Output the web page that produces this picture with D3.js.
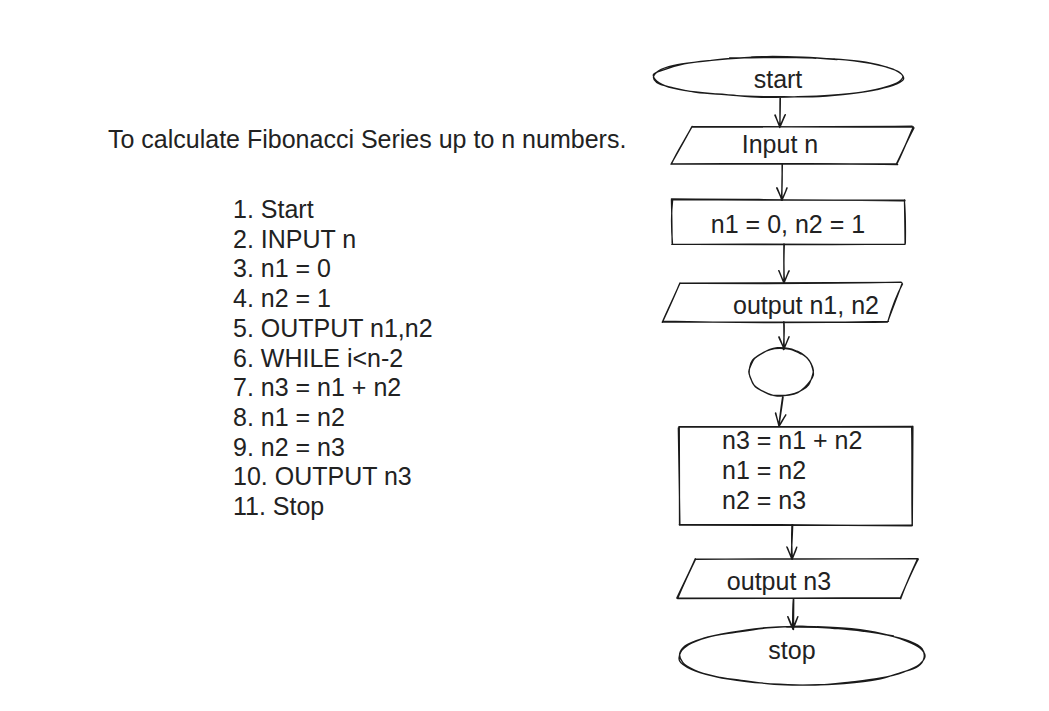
<!DOCTYPE html>
<html>
<head>
<meta charset="utf-8">
<script src="https://cdn.jsdelivr.net/npm/d3@7"></script>
<style>
  html, body { margin: 0; padding: 0; background: #fff; }
  svg text { font-family: "Liberation Sans", Arial, Helvetica, sans-serif; fill: #222; }
</style>
</head>
<body>
<div id="chartDiv"></div>
<script>
// Text content
const title = 'To calculate Fibonacci Series up to n numbers.';
const steps = ['1. Start', '2. INPUT n', '3. n1 = 0', '4. n2 = 1', '5. OUTPUT n1,n2',
    '6. WHILE i<n-2', '7. n3 = n1 + n2', '8. n1 = n2', '9. n2 = n3', '10. OUTPUT n3', '11. Stop'];

// Flowchart nodes, top to bottom
const nodeShapes = ['terminal', 'io', 'process', 'io', 'connector', 'process', 'io', 'terminal'];
const nodeLabels = [['start'], ['Input n'], ['n1 = 0, n2 = 1'], ['output n1, n2'], [],
    ['n3 = n1 + n2', 'n1 = n2', 'n2 = n3'], ['output n3'], ['stop']];
const edges = [[0, 1], [1, 2], [2, 3], [3, 4], [4, 5], [5, 6], [6, 7]];

// Layout of the drawing (kept apart from the content above)
const nodeBoxes = [
    {cx: 778, cy: 77, rx: 125, ry: 20},
    {top: 127, bottom: 164, tl: 692, tr: 913, bl: 671, br: 897},
    {x0: 672, x1: 905, y0: 200, y1: 244},
    {top: 283, bottom: 322, tl: 680, tr: 902, bl: 662, br: 888},
    {cx: 781, cy: 372, rx: 32, ry: 24},
    {x0: 679, x1: 912, y0: 427, y1: 525},
    {top: 559, bottom: 598, tl: 695, tr: 918, bl: 677, br: 900},
    {cx: 802, cy: 656, rx: 123, ry: 29}
];
const labelPos = [
    {x: 778, y: 88}, {x: 780, y: 153}, {x: 788, y: 233}, {x: 806, y: 314},
    {x: 0, y: 0}, {x: 722, y: 449, left: true}, {x: 779, y: 590}, {x: 792, y: 659}
];
const edgePos = [
    [780, 98, 780, 127], [782, 164, 782, 200], [784, 244, 784, 283], [784, 322, 784, 349],
    [783, 397, 779, 426], [792, 525, 792, 559], [793, 599, 793, 629]
];

let width = 1049, height = 711, fontSize = 25;

let svg = d3.select('#chartDiv')
    .append('svg')
    .attr('width', width)
    .attr('height', height);

// small fixed-seed generator for the hand drawn wobble
let seed = 12345;
function rnd() { seed = (seed * 16807) % 2147483647; return (seed - 1) / 2147483646; }
function jit(a) { return (rnd() - 0.5) * 2 * a; }

function roughLine(x1, y1, x2, y2, amp) {
    let d = '';
    let dx = x2 - x1, dy = y2 - y1, len = Math.hypot(dx, dy);
    let nx = -dy / len, ny = dx / len;
    for (let k = 0; k < 2; k++) {
        let o = amp * (k === 0 ? 0.6 : 1);
        let ax = x1 + jit(o), ay = y1 + jit(o), bx = x2 + jit(o), by = y2 + jit(o);
        let m1 = 0.3 + jit(0.1), m2 = 0.7 + jit(0.1), b1 = jit(o), b2 = jit(o);
        d += 'M' + ax + ',' + ay + ' C' + (x1 + dx * m1 + nx * b1) + ',' + (y1 + dy * m1 + ny * b1) + ' '
            + (x1 + dx * m2 + nx * b2) + ',' + (y1 + dy * m2 + ny * b2) + ' ' + bx + ',' + by + ' ';
    }
    return d;
}

function roughEllipse(cx, cy, rx, ry) {
    let line = d3.line().curve(d3.curveCatmullRom);
    let d = '';
    for (let k = 0; k < 2; k++) {
        let start = -Math.PI * 0.55 + jit(0.3);
        let pts = [];
        let n = 22;
        for (let i = 0; i <= n + 2; i++) {
            let a = start + i / n * Math.PI * 2 * 1.02;
            let f = 1 + jit(0.012);
            pts.push([cx + Math.cos(a) * rx * f + jit(0.6), cy + Math.sin(a) * ry * f + jit(0.6)]);
        }
        d += line(pts) + ' ';
    }
    return d;
}

function polyPath(pts, amp) {
    let d = '';
    for (let i = 0; i < pts.length; i++) {
        let p = pts[i], q = pts[(i + 1) % pts.length];
        d += roughLine(p[0], p[1], q[0], q[1], amp);
    }
    return d;
}

let flow = svg.append('g').attr('class', 'flow');

// shapes
flow.selectAll('path.node')
    .data(nodeShapes)
    .enter()
    .append('path')
    .attr('class', 'node')
    .attr('fill', 'none')
    .attr('stroke', '#1a1a1a')
    .attr('stroke-width', 1.3)
    .attr('stroke-linecap', 'round')
    .attr('d', function(s, i) {
        let b = nodeBoxes[i];
        if (s === 'terminal' || s === 'connector') return roughEllipse(b.cx, b.cy, b.rx, b.ry);
        if (s === 'io') return polyPath([[b.tl, b.top], [b.tr, b.top], [b.br, b.bottom], [b.bl, b.bottom]], 1);
        return polyPath([[b.x0, b.y0], [b.x1, b.y0], [b.x1, b.y1], [b.x0, b.y1]], 1);
    });

// arrows
flow.selectAll('path.edge')
    .data(edges)
    .enter()
    .append('path')
    .attr('class', 'edge')
    .attr('fill', 'none')
    .attr('stroke', '#1a1a1a')
    .attr('stroke-width', 1.4)
    .attr('stroke-linecap', 'round')
    .attr('d', function(e, i) {
        let p = edgePos[i];
        let dx = p[2] - p[0], dy = p[3] - p[1], len = Math.hypot(dx, dy);
        let ux = dx / len, uy = dy / len;
        let hx = p[2] - ux * 12, hy = p[3] - uy * 12;
        return roughLine(p[0], p[1], p[2], p[3], 0.7)
            + roughLine(hx - uy * 5, hy + ux * 5, p[2], p[3], 0.4)
            + roughLine(hx + uy * 5, hy - ux * 5, p[2], p[3], 0.4);
    });

// labels
nodeLabels.forEach(function(lines, i) {
    let pos = labelPos[i];
    flow.selectAll('text.n' + i)
        .data(lines)
        .enter()
        .append('text')
        .attr('class', 'n' + i)
        .attr('x', pos.x)
        .attr('y', function(d, j) {return pos.y + j * 30})
        .attr('text-anchor', pos.left ? 'start' : 'middle')
        .attr('font-size', fontSize)
        .text(function(d) {return d});
});

// left side text
svg.append('text')
    .attr('x', 108)
    .attr('y', 148)
    .attr('font-size', fontSize)
    .text(title);

let yScale = d3.scalePoint()
    .domain(steps)
    .range([218, 515]);

svg.selectAll('text.step')
    .data(steps)
    .enter()
    .append('text')
    .attr('class', 'step')
    .attr('x', 233)
    .attr('y', function(d) {return yScale(d)})
    .attr('font-size', fontSize)
    .text(function(d) {return d});
</script>
</body>
</html>
